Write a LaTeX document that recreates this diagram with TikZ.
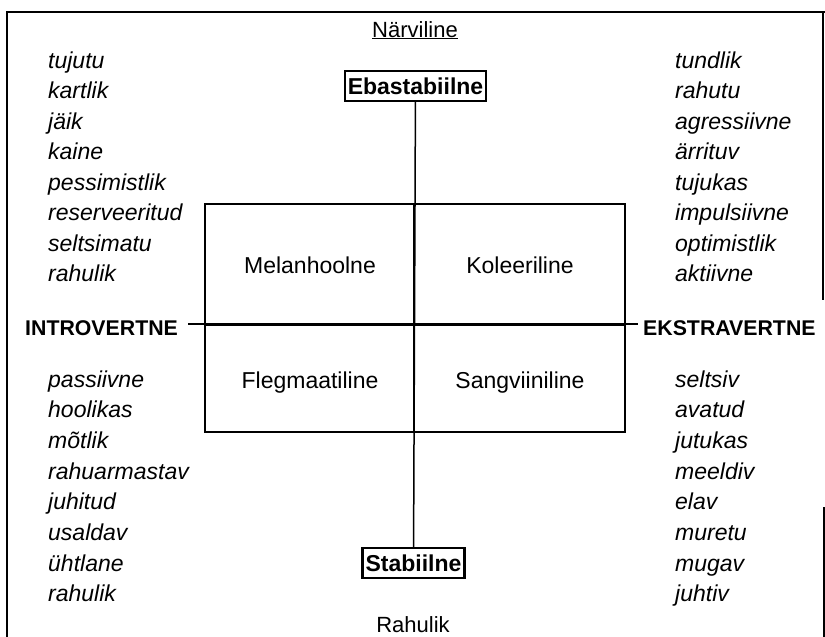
\documentclass[tikz,border=0pt]{standalone}
\usepackage{fontspec}
\setmainfont{Liberation Sans}
\begin{document}
\begin{tikzpicture}[x=1pt, y=-1pt]
  \tikzstyle{word} = [anchor=base west, inner sep=0pt, font=\fontsize{23}{26}\selectfont\itshape]
  \tikzstyle{temper} = [anchor=base, inner sep=0pt, font=\fontsize{23}{26}\selectfont]
  \tikzstyle{axis} = [anchor=base west, inner sep=0pt, font=\fontsize{21.3}{26}\selectfont\bfseries]
  \tikzstyle{pole} = [rectangle, draw, line width=2.4pt, inner xsep=3pt, minimum height=30pt, font=\fontsize{23}{26}\selectfont\bfseries]
  \tikzstyle{frame} = [line width=2.8pt]

  \useasboundingbox (0,0) rectangle (825,637);

  % Frame
  \draw[frame] (7,637) -- (7,12) -- (825,12);
  \draw[frame] (823,12) -- (823,300);
  \draw[line width=1.4pt] (824,507) -- (824,637);

  % Poles
  \node (narv) [temper, font=\fontsize{22}{26}\selectfont] at (415,37) {\underline{Närviline}};
  \node (ebast) [pole] at (415.5,86) {Ebastabiilne};
  \node (stab) [pole] at (413.5,563) {Stabiilne};
  \node (rah) [temper, font=\fontsize{22}{26}\selectfont] at (413,632) {Rahulik};
  \node (intro) [axis] at (25,335) {INTROVERTNE};
  \node (ekstra) [axis] at (643,335) {EKSTRAVERTNE};

  % Quadrants
  \node (box) [draw, line width=2.2pt, minimum width=420pt, minimum height=228pt] at (415,318) {};
  \node (mel) [temper] at (310,273) {Melanhoolne};
  \node (kol) [temper] at (520,273) {Koleeriline};
  \node (fleg) [temper] at (310,388) {Flegmaatiline};
  \node (sang) [temper] at (520,388) {Sangviiniline};

  % Axes
  \draw[line width=1.5pt] (ebast) -- (stab);
  \draw[line width=1.5pt] ([xshift=10pt]intro.east |- 0,324) -- ([xshift=-5pt]ekstra.west |- 0,324);
  \draw[line width=3pt] (box.west |- 0,324) -- (box.east |- 0,324);
  \draw[line width=2.2pt] (414,0 |- box.north) -- (414,0 |- box.south);

  % Traits
  \foreach \w [count=\i] in {tujutu, kartlik, jäik, kaine, pessimistlik, reserveeritud, seltsimatu, rahulik}
    \node (tl\i) [word] at (48,{68+30.5*(\i-1)}) {\w};
  \foreach \w [count=\i] in {tundlik, rahutu, agressiivne, ärrituv, tujukas, impulsiivne, optimistlik, aktiivne}
    \node (tr\i) [word] at (675,{68+30.5*(\i-1)}) {\w};
  \foreach \w [count=\i] in {passiivne, hoolikas, mõtlik, rahuarmastav, juhitud, usaldav, ühtlane, rahulik}
    \node (bl\i) [word] at (48,{387+30.7*(\i-1)}) {\w};
  \foreach \w [count=\i] in {seltsiv, avatud, jutukas, meeldiv, elav, muretu, mugav, juhtiv}
    \node (br\i) [word] at (675,{387+30.7*(\i-1)}) {\w};

\end{tikzpicture}
\end{document}
